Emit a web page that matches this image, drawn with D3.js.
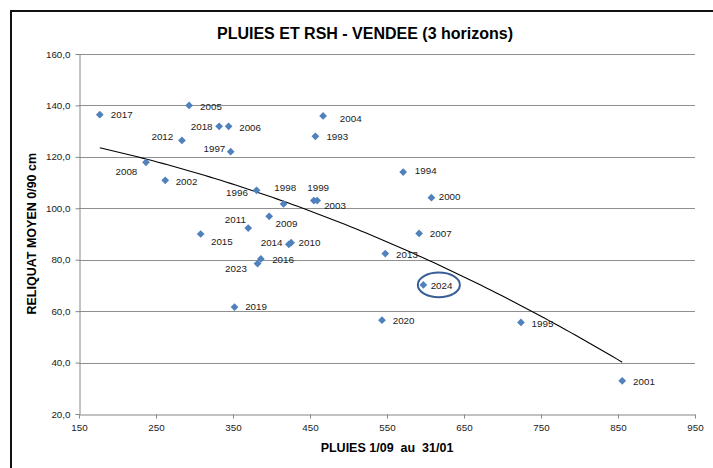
<!DOCTYPE html>
<html>
<head>
<meta charset="utf-8">
<script src="https://cdn.jsdelivr.net/npm/d3@7"></script>
<style>
  html, body { margin: 0; padding: 0; background: #fff; }
  svg { display: block; }
  text { font-family: "Liberation Sans", Arial, sans-serif; }
</style>
</head>
<body>
<svg id="chart" width="713" height="468"></svg>
<script>
// ---- Data ----
const years = [1993, 1994, 1995, 1996, 1997, 1998, 1999, 2000, 2001, 2002,
               2003, 2004, 2005, 2006, 2007, 2008, 2009, 2010, 2011, 2012,
               2013, 2014, 2015, 2016, 2017, 2018, 2019, 2020, 2023, 2024];
const pluies = [457, 571, 724, 380.6, 347, 415.7, 455, 607.7, 855.5, 262,
                459.3, 467, 293, 344.3, 591.7, 237, 397, 425.5, 369.8, 283.7,
                547.8, 422.5, 308, 386.2, 177, 332, 352, 543.5, 381.9, 597.2];
const reliquat = [128, 114.1, 55.6, 107, 122, 101.7, 103, 104.1, 32.9, 110.9,
                  103, 135.9, 140, 131.9, 90.2, 117.9, 96.9, 86.6, 92.3, 126.4,
                  82.4, 86, 90, 80.3, 136.4, 131.9, 61.6, 56.5, 78.5, 70.2];
const xTicks = [150, 250, 350, 450, 550, 650, 750, 850, 950];
const yTicks = [20, 40, 60, 80, 100, 120, 140, 160];
const highlightedYear = 2024;

const titleText = "PLUIES ET RSH - VENDEE (3 horizons)";
const xTitle = "PLUIES 1/09\u00A0 au\u00A0 31/01";
const yTitle = "RELIQUAT MOYEN 0/90 cm";

// label placement (anchor, offset from marker in px)
const labelPlace = {
  2017: ["start", 11, 0],    2005: ["start", 11, 0.7],  2018: ["end", -6.6, 0],
  2006: ["start", 10.6, 1],  2012: ["end", -8.7, -3.6], 1997: ["end", -5.4, -3.3],
  2008: ["end", -8.7, 9],    2002: ["start", 10.4, 1],  1996: ["end", -8.7, 2],
  1998: ["middle", 1.6, -16.3], 1999: ["middle", 4.3, -13], 2003: ["start", 7, 5],
  2004: ["start", 16.7, 2.7], 1993: ["start", 11, 0.6], 2009: ["start", 6.4, 7.7],
  2011: ["end", -2.3, -8.7], 2015: ["start", 10.3, 8],  2014: ["end", -6.3, -1.6],
  2010: ["start", 7.4, 0],   2016: ["start", 11.3, 1],  2023: ["end", -10.7, 5],
  2019: ["start", 10.6, 0],  1994: ["start", 11.7, -1], 2000: ["start", 7.3, -1.6],
  2007: ["start", 10.7, 0],  2013: ["start", 10.8, 1.3], 2024: ["start", 7.3, 1],
  2020: ["start", 10.7, 0.6], 1995: ["start", 10.6, 1], 2001: ["start", 10.8, 0.6]
};

const data = years.map((y, i) => ({ year: y, x: pluies[i], y: reliquat[i] }));

// ---- Layout ----
const svg = d3.select("#chart");
const plot = { left: 79, right: 695, top: 54, bottom: 414 };

svg.append("rect").attr("x", 0).attr("y", 0).attr("width", 713).attr("height", 468).attr("fill", "#fff");
svg.append("rect").attr("x", 11).attr("y", 11).attr("width", 740).attr("height", 500)
  .attr("fill", "none").attr("stroke", "#111").attr("stroke-width", 2);

const x = d3.scaleLinear().domain([150, 950]).range([plot.left, plot.right]);
const y = d3.scaleLinear().domain([20, 160]).range([plot.bottom, plot.top]);

// gridlines
svg.append("g").selectAll("line").data(yTicks.filter(t => t > 20)).join("line")
  .attr("x1", plot.left).attr("x2", plot.right)
  .attr("y1", d => Math.round(y(d)) + 0.5).attr("y2", d => Math.round(y(d)) + 0.5)
  .attr("stroke", "#8f8f8f").attr("stroke-width", 1);

// axes
const fmt = d => d.toFixed(1).replace(".", ",");
const yAxis = svg.append("g").attr("transform", `translate(${plot.left + 0.5},0)`)
  .call(d3.axisLeft(y).tickValues(yTicks).tickFormat(fmt).tickSizeInner(4).tickSizeOuter(0).tickPadding(5));
const xAxis = svg.append("g").attr("transform", `translate(0,${plot.bottom + 0.5})`)
  .call(d3.axisBottom(x).tickValues(xTicks).tickFormat(d3.format("d")).tickSizeInner(4).tickSizeOuter(0).tickPadding(6));
[xAxis, yAxis].forEach(g => {
  g.select(".domain").attr("stroke", "#868686");
  g.selectAll(".tick line").attr("stroke", "#868686");
  g.selectAll(".tick text").attr("font-family", "'Liberation Sans', Arial, sans-serif")
    .attr("font-size", 9.8).attr("fill", "#1a1a1a");
});

// trend line: least-squares 2nd-order polynomial fit
function polyFit2(pts) {
  let n = pts.length, sx = 0, sx2 = 0, sx3 = 0, sx4 = 0, sy = 0, sxy = 0, sx2y = 0;
  pts.forEach(p => {
    const a = p.x, b = p.y;
    sx += a; sx2 += a * a; sx3 += a * a * a; sx4 += a * a * a * a;
    sy += b; sxy += a * b; sx2y += a * a * b;
  });
  const M = [[n, sx, sx2, sy], [sx, sx2, sx3, sxy], [sx2, sx3, sx4, sx2y]];
  for (let i = 0; i < 3; i++) {
    for (let k = i + 1; k < 3; k++) {
      const f = M[k][i] / M[i][i];
      for (let j = i; j < 4; j++) M[k][j] -= f * M[i][j];
    }
  }
  const c = [0, 0, 0];
  for (let i = 2; i >= 0; i--) {
    let s = M[i][3];
    for (let j = i + 1; j < 3; j++) s -= M[i][j] * c[j];
    c[i] = s / M[i][i];
  }
  return c;
}
const coef = polyFit2(data);
const xMin = d3.min(pluies), xMax = d3.max(pluies);
const trendPts = d3.range(0, 101).map(i => {
  const xv = xMin + (xMax - xMin) * i / 100;
  return [xv, coef[0] + coef[1] * xv + coef[2] * xv * xv];
});
svg.append("path").datum(trendPts)
  .attr("d", d3.line().x(d => x(d[0])).y(d => y(d[1])))
  .attr("fill", "none").attr("stroke", "#000").attr("stroke-width", 1.1);

// markers
const diamond = d3.symbol().type(d3.symbolSquare).size(30);
svg.append("g").selectAll("path").data(data).join("path")
  .attr("d", diamond)
  .attr("transform", d => `translate(${x(d.x)},${y(d.y)}) rotate(45)`)
  .attr("fill", "#4F81BD");

// labels
svg.append("g").selectAll("text").data(data).join("text")
  .attr("x", d => x(d.x) + labelPlace[d.year][1])
  .attr("y", d => y(d.y) + labelPlace[d.year][2])
  .attr("dy", "0.35em")
  .attr("text-anchor", d => labelPlace[d.year][0])
  .attr("font-size", 9.8).attr("fill", "#1a1a1a")
  .text(d => d.year);

// highlight ellipse
const hl = data.find(d => d.year === highlightedYear);
svg.append("ellipse")
  .attr("cx", x(hl.x) + 15.5).attr("cy", y(hl.y))
  .attr("rx", 21).attr("ry", 12.3)
  .attr("fill", "none").attr("stroke", "#3A5F96").attr("stroke-width", 2);

// titles
svg.append("text").attr("x", 365).attr("y", 38.5).attr("text-anchor", "middle")
  .attr("font-size", 16).attr("font-weight", "bold").attr("fill", "#000").text(titleText);
svg.append("text").attr("x", (plot.left + plot.right) / 2).attr("y", 452).attr("text-anchor", "middle")
  .attr("font-size", 12.5).attr("font-weight", "bold").attr("fill", "#000").text(xTitle);
svg.append("text").attr("transform", `translate(35.5,${233.7}) rotate(-90)`).attr("text-anchor", "middle")
  .attr("font-size", 12.5).attr("font-weight", "bold").attr("fill", "#000").text(yTitle);
</script>
</body>
</html>
